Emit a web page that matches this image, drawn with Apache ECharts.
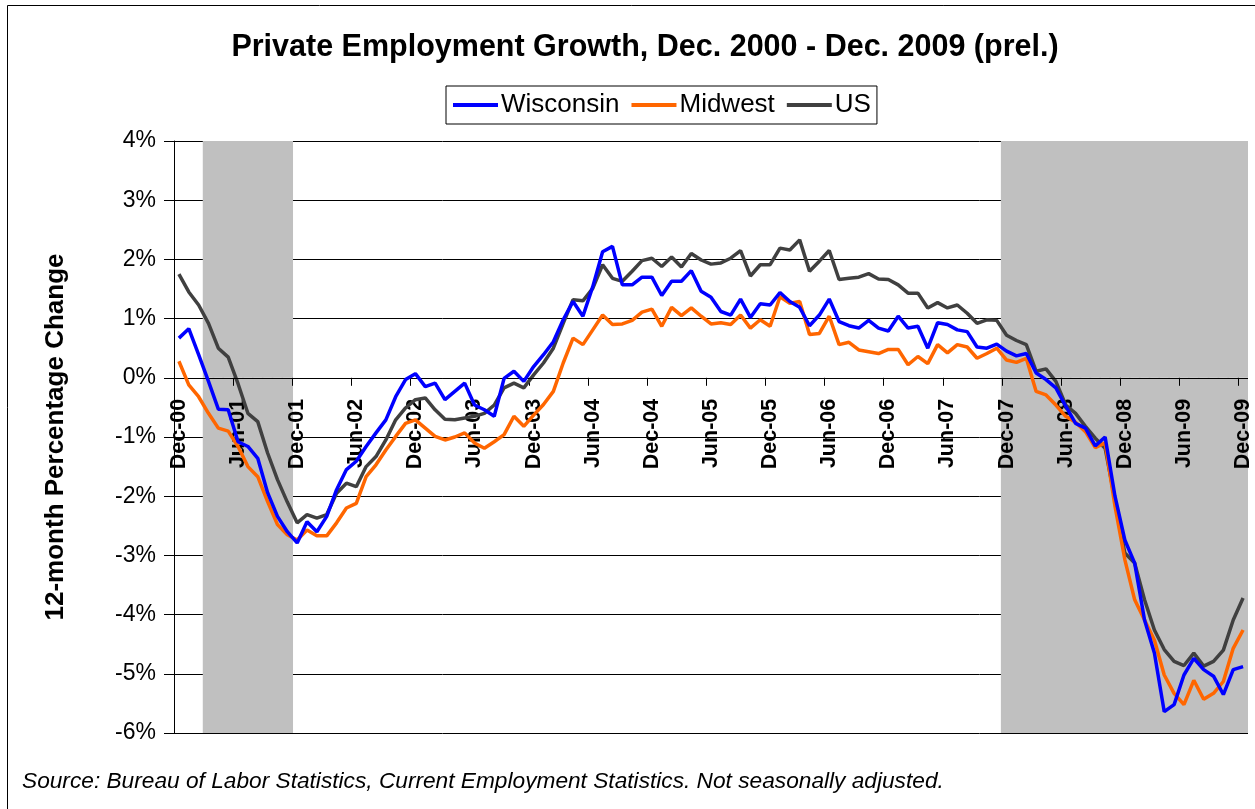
<!DOCTYPE html>
<html>
<head>
<meta charset="utf-8">
<script src="https://cdn.jsdelivr.net/npm/echarts@6/dist/echarts.min.js"></script>
<style>
html,body{margin:0;padding:0;background:#fff;}
#chart{width:1255px;height:809px;}
</style>
</head>
<body>
<div id="chart"></div>
<script>
// ---- Data ----
const monthNames = ['Jan','Feb','Mar','Apr','May','Jun','Jul','Aug','Sep','Oct','Nov','Dec'];
const categories = [];
for (let k = 0; k <= 108; k++) {
  const m = (11 + k) % 12;
  const y = 2000 + Math.floor((11 + k) / 12);
  categories.push(monthNames[m] + '-' + String(y % 100).padStart(2, '0'));
}
const tickLabels = ['Dec-00','Jun-01','Dec-01','Jun-02','Dec-02','Jun-03','Dec-03','Jun-04','Dec-04','Jun-05',
  'Dec-05','Jun-06','Dec-06','Jun-07','Dec-07','Jun-08','Dec-08','Jun-09','Dec-09'];
const recessions = [['Mar-01','Nov-01'], ['Dec-07','Dec-09']];

const wisconsin = [
  0.67, 0.83, 0.39, -0.06, -0.53, -0.54, -1.08, -1.16, -1.36, -1.94, -2.34, -2.60,
  -2.79, -2.43, -2.60, -2.34, -1.89, -1.55, -1.41, -1.16, -0.93, -0.71, -0.32, -0.03,
  0.07, -0.15, -0.09, -0.37, -0.23, -0.09, -0.46, -0.54, -0.65, -0.01, 0.11, -0.06,
  0.19, 0.39, 0.61, 0.98, 1.29, 1.04, 1.54, 2.13, 2.22, 1.57, 1.57, 1.70,
  1.70, 1.39, 1.63, 1.63, 1.81, 1.46, 1.36, 1.12, 1.06, 1.33, 1.02, 1.25,
  1.23, 1.44, 1.29, 1.19, 0.88, 1.06, 1.33, 0.95, 0.88, 0.84, 0.97, 0.84,
  0.79, 1.04, 0.84, 0.87, 0.50, 0.93, 0.90, 0.81, 0.78, 0.52, 0.50, 0.57,
  0.45, 0.37, 0.41, 0.08, -0.03, -0.17, -0.48, -0.77, -0.85, -1.15, -1.00, -2.00,
  -2.74, -3.13, -4.09, -4.65, -5.64, -5.52, -5.02, -4.74, -4.93, -5.04, -5.35, -4.93,
  -4.88
];
const midwest = [
  0.28, -0.12, -0.32, -0.60, -0.85, -0.90, -1.16, -1.50, -1.67, -2.09, -2.48, -2.65,
  -2.74, -2.57, -2.67, -2.67, -2.45, -2.20, -2.12, -1.67, -1.47, -1.22, -0.99, -0.77,
  -0.71, -0.85, -0.99, -1.05, -1.00, -0.93, -1.10, -1.19, -1.08, -0.96, -0.65, -0.82,
  -0.63, -0.45, -0.23, 0.25, 0.67, 0.56, 0.81, 1.06, 0.90, 0.91, 0.97, 1.11,
  1.16, 0.87, 1.19, 1.05, 1.18, 1.04, 0.91, 0.93, 0.90, 1.06, 0.84, 0.98,
  0.87, 1.37, 1.26, 1.29, 0.73, 0.75, 1.04, 0.56, 0.60, 0.47, 0.44, 0.41,
  0.48, 0.48, 0.22, 0.36, 0.24, 0.56, 0.42, 0.56, 0.52, 0.33, 0.41, 0.50,
  0.30, 0.26, 0.33, -0.23, -0.29, -0.46, -0.65, -0.75, -0.91, -1.18, -1.10, -2.17,
  -3.07, -3.75, -4.09, -4.43, -5.02, -5.33, -5.52, -5.11, -5.43, -5.33, -5.13, -4.57,
  -4.26
];
const us = [
  1.75, 1.45, 1.23, 0.92, 0.50, 0.35, -0.10, -0.60, -0.74, -1.27, -1.72, -2.10,
  -2.45, -2.31, -2.37, -2.31, -1.95, -1.78, -1.84, -1.50, -1.33, -1.05, -0.71, -0.51,
  -0.37, -0.34, -0.54, -0.70, -0.71, -0.68, -0.65, -0.60, -0.46, -0.17, -0.09, -0.17,
  0.05, 0.25, 0.50, 0.92, 1.32, 1.30, 1.51, 1.91, 1.68, 1.63, 1.80, 1.98,
  2.02, 1.88, 2.04, 1.87, 2.10, 1.99, 1.92, 1.94, 2.02, 2.15, 1.72, 1.91,
  1.91, 2.19, 2.16, 2.33, 1.80, 1.97, 2.15, 1.66, 1.68, 1.70, 1.76, 1.67,
  1.66, 1.57, 1.43, 1.43, 1.18, 1.27, 1.18, 1.23, 1.09, 0.92, 0.98, 0.97,
  0.72, 0.63, 0.56, 0.11, 0.15, -0.06, -0.46, -0.60, -0.82, -1.02, -1.19, -2.06,
  -2.96, -3.13, -3.75, -4.26, -4.59, -4.79, -4.86, -4.65, -4.87, -4.79, -4.60, -4.09,
  -3.72
];
const yMin = -6, yMax = 4;

// ---- Build recession shading from the ranges ----
const inRecession = categories.map(() => false);
recessions.forEach(([a, b]) => {
  const s = categories.indexOf(a), e = categories.indexOf(b);
  for (let i = s; i <= e; i++) inRecession[i] = true;
});
const recUp = inRecession.map(f => f ? yMax : '-');
const recDown = inRecession.map(f => f ? yMin : '-');

const FONT = '"Liberation Sans", Arial, sans-serif';
const chart = echarts.init(document.getElementById('chart'), null, {renderer: 'canvas'});

// Category-axis labels & ticks placed on the zero line through the library's scales
function renderZeroAxisLabel(params, api) {
  const p = api.coord([api.value(0), 0]);
  const bw = api.size([1, 0])[0];
  const tx = Math.round(p[0] - bw / 2) + 0.5;
  return {
    type: 'group',
    children: [
      {type: 'line', shape: {x1: tx, y1: p[1], x2: tx, y2: p[1] + 8}, style: {stroke: '#000', lineWidth: 1}},
      {type: 'text', x: p[0], y: p[1] + 21, rotation: Math.PI / 2,
       style: {text: api.value(2), fontFamily: FONT, fontWeight: 'bold', fontSize: 21.5, fill: '#000',
               align: 'right', verticalAlign: 'middle'}}
    ]
  };
}

chart.setOption({
  animation: false,
  backgroundColor: '#fff',
  title: {
    text: 'Private Employment Growth, Dec. 2000 - Dec. 2009 (prel.)',
    left: 640, top: 27, textAlign: 'center',
    textStyle: {fontFamily: FONT, fontWeight: 'bold', fontSize: 30.5, color: '#000'}
  },
  legend: {
    data: ['Wisconsin', 'Midwest', 'US'],
    left: 446, top: 86,
    padding: [6, 6, 6, 7],
    itemGap: 12,
    itemWidth: 45, itemHeight: 4,
    icon: 'rect',
    borderColor: '#000', borderWidth: 1,
    textStyle: {fontFamily: FONT, fontSize: 26, color: '#000', padding: [0, 0, 0, -2]}
  },
  grid: {left: 174, right: 7, top: 141, bottom: 76, containLabel: false},
  xAxis: {
    type: 'category',
    data: categories,
    boundaryGap: true,
    axisLine: {show: false},
    axisTick: {show: false},
    axisLabel: {show: false},
    splitLine: {show: false}
  },
  yAxis: {
    type: 'value',
    min: yMin, max: yMax, interval: 1,
    z: 0,
    axisLine: {show: true, lineStyle: {color: '#000'}},
    axisTick: {show: true, length: 10, lineStyle: {color: '#000'}},
    axisLabel: {formatter: '{value}%', margin: 18, fontFamily: FONT, fontSize: 23, color: '#000'},
    splitLine: {show: true, lineStyle: {color: '#000', width: 1}}
  },
  graphic: [
    {type: 'rect', shape: {x: 7.5, y: 5.5, width: 1270, height: 830}, style: {fill: 'none', stroke: '#000', lineWidth: 1}, z: 100, silent: true},
    {type: 'text', x: 56, y: 437, rotation: Math.PI / 2,
     style: {text: '12-month Percentage Change', fontFamily: FONT, fontWeight: 'bold', fontSize: 26, fill: '#000', textAlign: 'center', textVerticalAlign: 'middle'}},
    {type: 'text', left: 22, top: 770,
     style: {text: 'Source: Bureau of Labor Statistics, Current Employment Statistics. Not seasonally adjusted.', fontFamily: FONT, fontStyle: 'italic', fontSize: 22.7, fill: '#000'}}
  ],
  series: [
    {name: 'recUp', type: 'bar', data: recUp, barWidth: '116%', barGap: '-100%', itemStyle: {color: '#C0C0C0'}, z: 1, silent: true},
    {name: 'recDown', type: 'bar', data: recDown, barWidth: '116%', barGap: '-100%', itemStyle: {color: '#C0C0C0'}, z: 1, silent: true},
    {name: 'zeroAxis', type: 'custom', z: 3, silent: true, clip: false,
     renderItem: renderZeroAxisLabel,
     encode: {x: 0, y: 1},
     data: tickLabels.map(l => [l, 0, l]),
     markLine: {silent: true, symbol: 'none', label: {show: false},
                lineStyle: {color: '#000', width: 1, type: 'solid'},
                data: [{yAxis: 0}]}
    },
    {name: 'Wisconsin', type: 'line', data: wisconsin, showSymbol: false, symbol: 'none', lineStyle: {color: '#0000FF', width: 3.5}, itemStyle: {color: '#0000FF'}, z: 6},
    {name: 'Midwest', type: 'line', data: midwest, showSymbol: false, symbol: 'none', lineStyle: {color: '#FF6600', width: 3.5}, itemStyle: {color: '#FF6600'}, z: 5},
    {name: 'US', type: 'line', data: us, showSymbol: false, symbol: 'none', lineStyle: {color: '#404040', width: 3.5}, itemStyle: {color: '#404040'}, z: 4}
  ]
});
</script>
</body>
</html>
